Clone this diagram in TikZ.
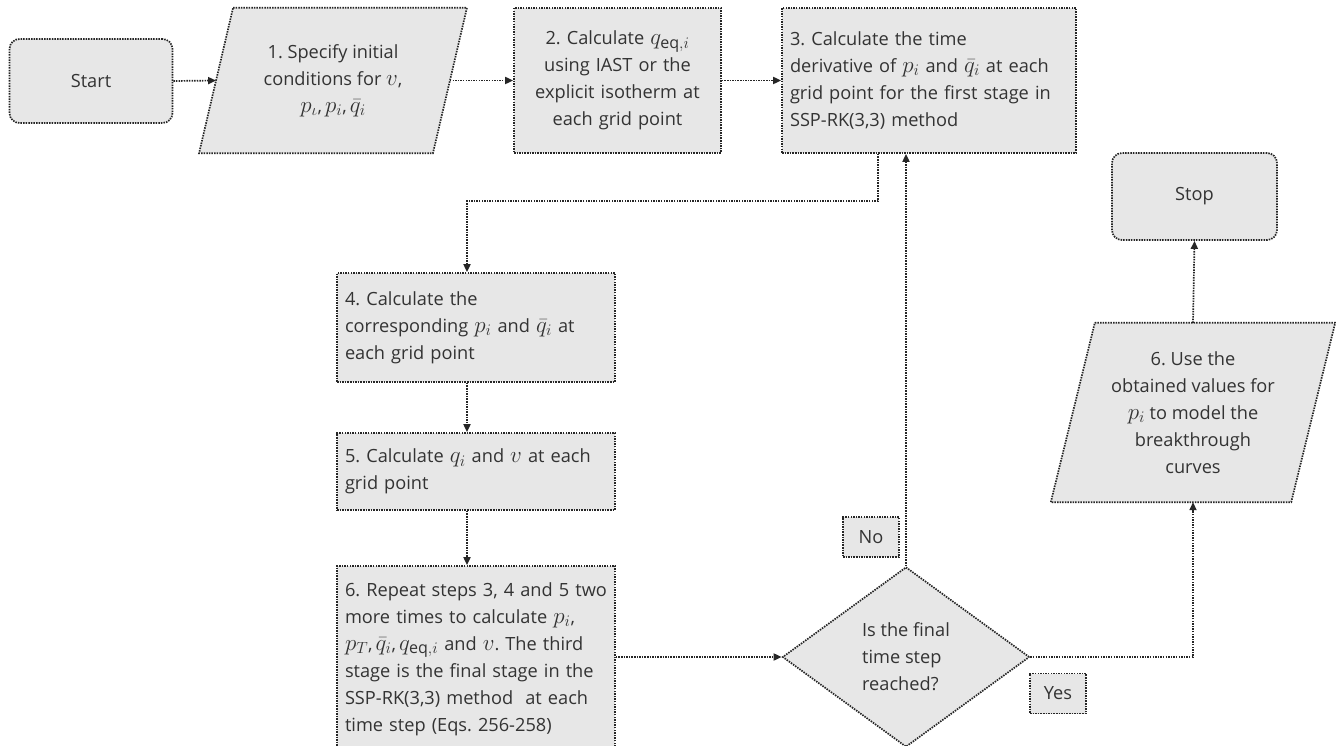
\RequirePackage{fix-cm}
\documentclass[tikz,border=0pt]{standalone}
\usepackage{fontspec}
\setmainfont{Open Sans}
\usetikzlibrary{arrows.meta,shapes.geometric,backgrounds}
\definecolor{boxfill}{HTML}{E7E7E7}
\definecolor{boxline}{HTML}{262626}
\definecolor{txt}{HTML}{333333}
\newcommand\mth[1]{{\fontsize{23}{27}\selectfont$#1$}}
\frenchspacing
\tikzset{
  dots/.style={line width=1.7pt, dash pattern=on 1.5pt off 1.1pt},
  box/.style={draw=boxline, dots, fill=boxfill, text=txt,
    font=\fontsize{18.2}{27}\selectfont\frenchspacing, inner sep=0pt},
  termbox/.style={box, rectangle, rounded corners=10pt, align=center},
  procbox/.style={box, rectangle, inner xsep=8pt, inner ysep=0pt},
  parabox/.style={rectangle, inner sep=0pt, text=txt,
    font=\fontsize{18.2}{27}\selectfont\frenchspacing, align=center},
  parashape/.style={draw=boxline, dots, fill=boxfill},
  decision/.style={box, diamond, aspect=1.37, align=left},
  tag/.style={box, rectangle, minimum width=56pt, minimum height=40pt},
  conn/.style={draw=boxline, dots, -{Triangle[length=8pt,width=7pt]}},
  link/.style={draw=boxline, dots}
}
\begin{document}
\begin{tikzpicture}[x=1pt,y=-1pt]
\useasboundingbox (0,0) rectangle (1336,746);
\clip (0,0) rectangle (1336,746);

% terminals
\node[termbox, minimum width=163pt, minimum height=84pt] (start) at (91,81) {Start};
\node[termbox, minimum width=165pt, minimum height=87pt] (stop) at (1194.5,196.5) {Stop};

% parallelogram 1
\node[parabox, minimum width=233.5pt, minimum height=145pt] (n1) at (333,80.5)
  {1. Specify initial\\ conditions for \mth{v},\\ \mth{p_\iota},\,\mth{p_i},\,\mth{\bar{q}_i}};
% process boxes
\node[procbox, text width=191pt, align=center, minimum height=145pt] (n2) at (617.5,80.5)
  {2. Calculate \mth{q_{\mathrm{eq},i}}\\ using IAST or the\\ explicit isotherm at\\ each grid point};
\node[procbox, text width=278pt, align=left, minimum height=145pt] (n3) at (929,80.5)
  {3. Calculate the time\\ \mbox{derivative of \mth{p_i} and \mth{\bar{q}_i} at each}\\ \mbox{grid point for the first stage in}\\ SSP-RK(3,3) method};
\node[procbox, text width=262pt, align=left, minimum height=109pt] (n4) at (476,327.5)
  {4. Calculate the\\ corresponding \mth{p_i} and \mth{\bar{q}_i} at\\ each grid point};
\node[procbox, text width=262pt, align=left, minimum height=77pt] (n5) at (476,471.5)
  {5. Calculate \mth{q_i} and \mth{v} at each\\ grid point};
\node[procbox, text width=262pt, align=left, minimum height=186pt] (n6) at (476,659)
  {\mbox{6. Repeat steps 3, 4 and 5 two}\\ more times to calculate \mth{p_i},\\ \mbox{\mth{p_T},\,\mth{\bar{q}_i},\,\mth{q_{\mathrm{eq},i}} and \mth{v}. The third}\\ \mbox{stage is the final stage in the}\\ \mbox{SSP-RK(3,3) method\ \ at each}\\ time step (Eqs. 256-258)};

% decision
\node[decision, minimum width=247pt, minimum height=180pt] (dec) at (906,657)
  {Is the final\\ time step\\ reached?};
\node[tag] (no) at (871,537) {No};
\node[tag] (yes) at (1058,693.5) {Yes};

% parallelogram 7
\node[parabox, minimum width=240pt, minimum height=179pt] (n7) at (1193,412.5)
  {6. Use the\\ obtained values for\\ \mth{p_i} to model the\\ breakthrough\\ curves};

\begin{scope}[on background layer]
  \path[parashape] ([xshift=17pt]n1.north west) -- ([xshift=17pt]n1.north east)
     -- ([xshift=-17pt]n1.south east) -- ([xshift=-17pt]n1.south west) -- cycle;
  \path[parashape] ([xshift=22pt]n7.north west) -- ([xshift=22pt]n7.north east)
     -- ([xshift=-22pt]n7.south east) -- ([xshift=-22pt]n7.south west) -- cycle;
\end{scope}

% connectors
\draw[conn] (start.east) -- (n1.west);
\draw[conn] (n1.east) -- (n2.west);
\draw[conn] (n2.east) -- (n3.west);
\draw[conn] ([xshift=-51pt]n3.south) -- ++(0,47) -| ([xshift=-9pt]n4.north);
\draw[conn] ([xshift=-9pt]n4.south) -- ([xshift=-9pt]n5.north);
\draw[conn] ([xshift=-9pt]n5.south) -- ([xshift=-9pt]n6.north);
\draw[conn] (n6.east |- dec.west) -- (dec.west);
\draw[conn] (dec.north) -- (dec.north |- n3.south);
\draw[conn] (dec.east) -| (n7.south);
\draw[conn] (n7.north) -- (stop.south);
\end{tikzpicture}
\end{document}
